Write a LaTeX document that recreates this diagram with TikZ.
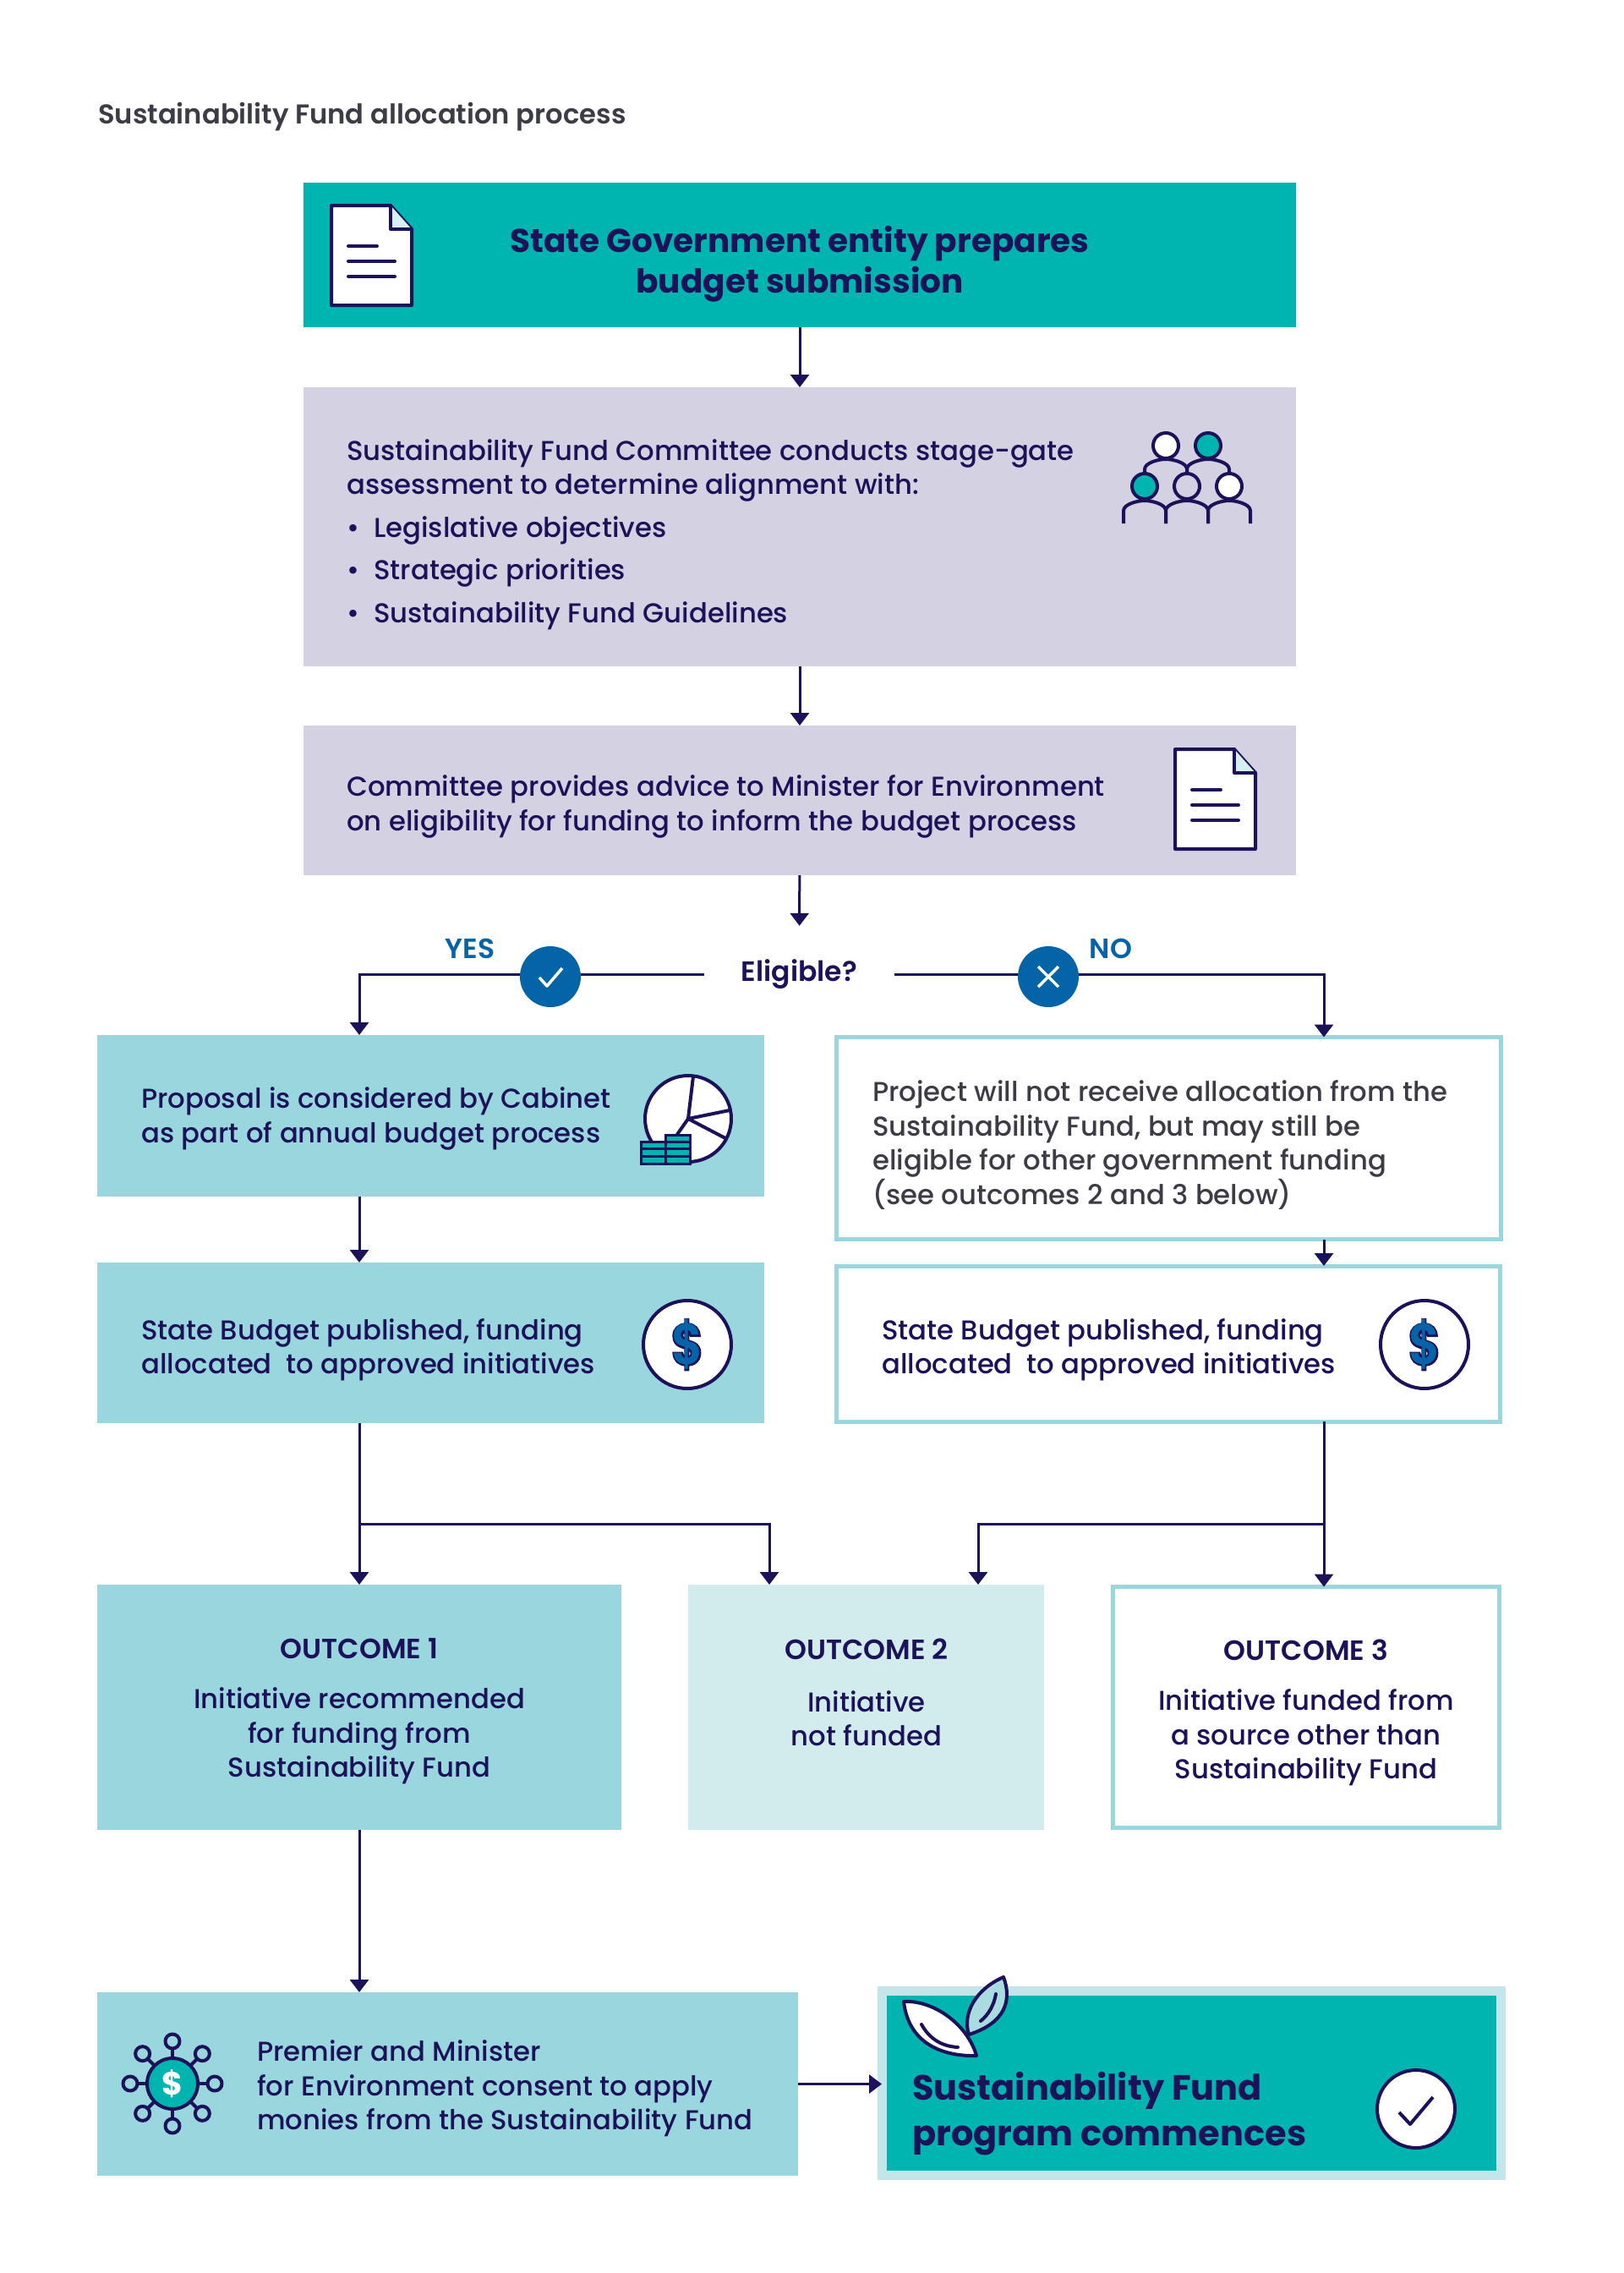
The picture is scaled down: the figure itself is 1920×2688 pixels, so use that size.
\documentclass[tikz,border=0pt]{standalone}
\usepackage{fontspec}
\setmainfont{Poppins Medium}[BoldFont={Poppins SemiBold}]
\newfontfamily\fakeb[FakeBold=4]{Poppins Bold}
\newfontfamily\heavy{Poppins Bold}
\usetikzlibrary{arrows.meta,calc}
\definecolor{navy}{HTML}{1B1259}
\definecolor{teal}{HTML}{00B4B0}
\definecolor{lteal}{HTML}{99D6DD}
\definecolor{pale}{HTML}{D2ECEE}
\definecolor{frame}{HTML}{C4E5E9}
\definecolor{lav}{HTML}{D4D2E2}
\definecolor{blue}{HTML}{0563A8}
\definecolor{grayt}{HTML}{3C3C46}
\definecolor{leaf}{HTML}{A9DBE0}
\tikzset{
  box/.style={rectangle,outer sep=0pt,inner sep=0pt,anchor=north west},
  conn/.style={draw=navy,line width=3pt,-{Triangle[width=22pt,length=15pt]}},
  body/.style={text=navy,align=left,anchor=west,inner sep=0pt,font=\fontsize{32.3}{40.5}\selectfont},
  ctr/.style={text=navy,align=center,anchor=center,inner sep=0pt,font=\fontsize{32.3}{40.5}\selectfont},
  ico/.style={draw=navy,line width=4pt,line join=round,line cap=round},
}
\newcommand{\docicon}[2]{%
  \begin{scope}[shift={(#1,#2)}]
    \draw[ico,fill=white] (0,0) -- (70,0) -- (95,28) -- (95,118) -- (0,118) -- cycle;
    \draw[ico,fill=lteal!40!white] (70,0) -- (70,28) -- (95,28);
    \draw[ico] (20,48) -- (54,48) (20,66) -- (75,66) (20,84) -- (75,84);
  \end{scope}}
\newcommand{\dollaricon}[2]{%
  \draw[ico,fill=white] (#1,#2) circle (52);
  \node[text=navy,inner sep=0pt,xscale=.85,font=\fakeb\fontsize{68}{68}\selectfont] (dl#1) at (#1,#2) {\$};
  \node[text=blue,inner sep=0pt,xscale=.85,font=\bfseries\fontsize{68}{68}\selectfont] (df#1) at (#1,#2) {\$};}
\newcommand{\person}[2]{%
  \draw[ico,line cap=butt] (#1-25,#2+21) -- (#1-25,#2+6) .. controls (#1-25,#2-2) and (#1-8,#2-6) .. (#1,#2-6)
     .. controls (#1+8,#2-6) and (#1+25,#2-2) .. (#1+25,#2+6) -- (#1+25,#2+21);}
\begin{document}
\begin{tikzpicture}[x=1pt,y=-1pt]
\useasboundingbox (0,0) rectangle (1920,2688);
\fill[white] (0,0) rectangle (1920,2688);
\coordinate (lx) at (425,0);
\coordinate (rx) at (1566,0);
\coordinate (bx) at (910,0);
\coordinate (cx) at (1157,0);
\coordinate (hy) at (0,1802);

\node[text=grayt,anchor=west,inner sep=0pt,font=\fontsize{32.2}{36}\selectfont\bfseries] (title) at (116,138) {Sustainability Fund allocation process};

% boxes
\node[box,fill=teal,minimum width=1174pt,minimum height=171pt] (b1) at (359,216) {};
\node[box,fill=lav,minimum width=1174pt,minimum height=330pt] (b2) at (359,458) {};
\node[box,fill=lav,minimum width=1174pt,minimum height=177pt] (b3) at (359,858) {};
\node[box,fill=lteal,minimum width=789pt,minimum height=191pt] (ba) at (115,1224) {};
\node[box,draw=lteal,line width=5pt,fill=white,minimum width=786pt,minimum height=239pt] (bb) at (989.5,1226.5) {};
\node[box,fill=lteal,minimum width=789pt,minimum height=190pt] (bc) at (115,1493) {};
\node[box,draw=lteal,line width=5pt,fill=white,minimum width=785pt,minimum height=184pt] (bd) at (989.5,1497) {};
\node[box,fill=lteal,minimum width=620pt,minimum height=290pt] (o1) at (115,1874) {};
\node[box,fill=pale,minimum width=421pt,minimum height=290pt] (o2) at (814,1874) {};
\node[box,draw=lteal,line width=5pt,fill=white,minimum width=457pt,minimum height=285pt] (o3) at (1316.5,1876.5) {};
\node[box,fill=lteal,minimum width=829pt,minimum height=217pt] (be) at (115,2356) {};
\node[box,fill=teal,draw=frame,line width=11pt,minimum width=732pt,minimum height=218pt] (bf) at (1043,2354) {};

% eligible
\node[text=navy,inner sep=0pt,minimum width=225pt,minimum height=114pt,font=\fontsize{33}{36}\selectfont\bfseries] (elig) at (945.5,1152) {Eligible?};

% connectors
\draw[conn] (b1) -- (b2);
\draw[conn] (b2) -- (b3);
\draw[conn] (b3) -- (elig);
\draw[conn] (elig.west) -- (elig.west -| lx) -- (ba.north -| lx);
\draw[conn] (elig.east) -- (elig.east -| rx) -- (bb.north -| rx);
\draw[conn] (ba.south -| lx) -- (bc.north -| lx);
\draw[conn] (bb.south -| rx) -- (bd.north -| rx);
\draw[conn] (bc.south -| lx) -- (o1.north -| lx);
\draw[conn] (bd.south -| rx) -- (o3.north -| rx);
\draw[conn] (hy -| lx) -- (hy -| bx) -- (o2.north -| bx);
\draw[conn] (hy -| rx) -- (hy -| cx) -- (o2.north -| cx);
\draw[conn] (o1.south -| lx) -- (be.north -| lx);
\draw[conn] (be.east) -- (be.east -| bf.west);

% text
\node[text=navy,align=center,inner sep=0pt,font=\heavy\fontsize{39}{48}\selectfont] (t1) at (946,312) {State Government entity prepares\\budget submission};
\node[body] (t2) at (410,632) {Sustainability Fund Committee conducts stage-gate\\assessment to determine alignment with:\\[10pt]\makebox[32pt][l]{•}Legislative objectives\\[10pt]\makebox[32pt][l]{•}Strategic priorities\\[10pt]\makebox[32pt][l]{•}Sustainability Fund Guidelines};
\node[body] (t3) at (410,954) {Committee provides advice to Minister for Environment\\on eligibility for funding to inform the budget process};
\node[body] (ta) at (167,1323) {Proposal is considered by Cabinet\\as part of annual budget process};
\node[body,text=grayt] (tb) at (1032,1354) {Project will not receive allocation from the\\Sustainability Fund, but may still be\\eligible for other government funding\\(see outcomes 2 and 3 below)};
\node[body] (tc) at (167,1596) {State Budget published, funding\\allocated\ \ to approved initiatives};
\node[body] (td) at (1043,1596) {State Budget published, funding\\allocated\ \ to approved initiatives};
\node[ctr,font=\fontsize{33}{36}\selectfont\bfseries] (o1h) at (425,1950) {OUTCOME 1};
\node[ctr] (o1t) at (425,2053) {Initiative recommended\\for funding from\\Sustainability Fund};
\node[ctr,font=\fontsize{33}{36}\selectfont\bfseries] (o2h) at (1025,1950) {OUTCOME 2};
\node[ctr] (o2t) at (1025,2032) {Initiative\\not funded};
\node[ctr,font=\fontsize{33}{36}\selectfont\bfseries] (o3h) at (1545,1951) {OUTCOME 3};
\node[ctr] (o3t) at (1545,2055) {Initiative funded from\\a source other than\\Sustainability Fund};
\node[body] (te) at (304,2470) {Premier and Minister\\for Environment consent to apply\\monies from the Sustainability Fund};
\node[body,font=\heavy\fontsize{41.5}{54}\selectfont] (tf) at (1079,2500) {Sustainability Fund\\program commences};

% yes / no
\node[circle,fill=blue,inner sep=0pt,minimum size=72pt] (yes) at (651,1155) {};
\node[circle,fill=blue,inner sep=0pt,minimum size=72pt] (no) at (1240,1155) {};
\draw[white,line width=3.5pt,line join=round] (638,1156) -- (647,1166) -- (665,1145);
\draw[white,line width=3.5pt] (1228,1143) -- (1252,1167) (1252,1143) -- (1228,1167);
\node[text=blue,inner sep=0pt,font=\fontsize{33}{36}\selectfont\bfseries] (ylab) at (556,1122) {YES};
\node[text=blue,inner sep=0pt,font=\fontsize{33}{36}\selectfont\bfseries] (nlab) at (1314,1122) {NO};

% doc icons
\docicon{392}{243}
\docicon{1390}{886}

% people icon
\person{1379}{549}
\person{1429}{549}
\draw[ico,fill=white] (1379,527) circle (15);
\draw[ico,fill=teal] (1429,527) circle (15);
\person{1354}{598}
\person{1404}{598}
\person{1454}{598}
\draw[ico,fill=teal] (1354,575) circle (15);
\draw[ico,fill=lav] (1404,575) circle (15);
\draw[ico,fill=white] (1454,575) circle (15);

% pie icon
\draw[ico,fill=white] (814,1323) circle (51);
\draw[ico] (814,1323) -- (820,1273) (814,1323) -- (863,1313) (814,1323) -- (858,1346) (814,1323) -- (800,1343);
\draw[navy,line width=3pt,fill=teal] (758,1350) rectangle (787,1376);
\draw[navy,line width=3pt,fill=teal] (787,1342) rectangle (816,1376);
\draw[navy,line width=3pt] (758,1358) -- (787,1358) (758,1367) -- (787,1367) (787,1350) -- (816,1350) (787,1358) -- (816,1358) (787,1367) -- (816,1367);

% dollars
\dollaricon{813}{1590}
\dollaricon{1685}{1590}

% network icon
\foreach \a in {0,45,...,315} {
  \draw[ico] ($(204,2464)+(\a:30)$) -- ($(204,2464)+(\a:41)$);
  \draw[ico] ($(204,2464)+(\a:50)$) circle (8.5);
}
\draw[ico,fill=teal] (204,2464) circle (30);
\node[text=white,inner sep=0pt,font=\heavy\fontsize{38}{38}\selectfont] (netd) at (204,2464) {\$};

% leaves
\draw[ico,fill=leaf] (1146,2406) .. controls (1138,2380) and (1155,2352) .. (1187,2338) .. controls (1197,2365) and (1190,2392) .. cycle;
\draw[ico] (1160,2390) .. controls (1170,2382) and (1176,2370) .. (1178,2358);
\draw[ico,fill=white] (1155,2431) .. controls (1120,2432) and (1075,2420) .. (1069,2367) .. controls (1105,2365) and (1145,2395) .. cycle;
\draw[ico] (1090,2394) .. controls (1100,2412) and (1115,2420) .. (1133,2421);

% final check
\draw[ico,fill=white] (1675,2494) circle (46);
\draw[navy,line width=4pt,line join=round] (1655,2498) -- (1668,2512) -- (1695,2480);
\end{tikzpicture}
\end{document}
